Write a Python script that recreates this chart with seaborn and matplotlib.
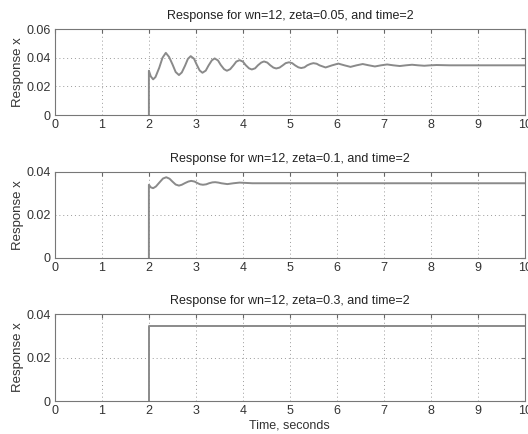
import matplotlib
matplotlib.use("Agg")
import matplotlib.pyplot as plt
import seaborn as sns
import pandas as pd

# valores (tiempo en s, respuesta x)
t_z005 = [2, 2, 2.04, 2.09, 2.14, 2.22, 2.29, 2.36, 2.43, 2.50, 2.57, 2.64, 2.70,
          2.77, 2.83, 2.89, 2.96, 3.02, 3.08, 3.14, 3.21, 3.27, 3.34, 3.40, 3.47,
          3.53, 3.60, 3.66, 3.73, 3.80, 3.86, 3.93, 4.00, 4.06, 4.13, 4.19, 4.26,
          4.32, 4.39, 4.45, 4.52, 4.58, 4.65, 4.71, 4.78, 4.85, 4.91, 4.98, 5.05,
          5.11, 5.18, 5.24, 5.31, 5.37, 5.44, 5.50, 5.57, 5.63, 5.76, 5.90, 6.03,
          6.16, 6.29, 6.42, 6.55, 6.68, 6.81, 6.94, 7.07, 7.20, 7.34, 7.47, 7.60,
          7.73, 7.86, 7.99, 8.12, 8.40, 10]
x_z005 = [0, 0.0309, 0.0270, 0.0249, 0.0265, 0.0330, 0.0400, 0.0434, 0.0405,
          0.0355, 0.0300, 0.0279, 0.0297, 0.0345, 0.0392, 0.0411, 0.0393, 0.0350,
          0.0311, 0.0295, 0.0310, 0.0346, 0.0382, 0.0395, 0.0381, 0.0349, 0.0320,
          0.0309, 0.0320, 0.0347, 0.0373, 0.0383, 0.0373, 0.0348, 0.0326, 0.0318,
          0.0326, 0.0347, 0.0366, 0.0374, 0.0366, 0.0348, 0.0331, 0.0325, 0.0331,
          0.0347, 0.0362, 0.0368, 0.0362, 0.0347, 0.0333, 0.0328, 0.0333, 0.0347,
          0.0357, 0.0362, 0.0358, 0.0347, 0.0332, 0.0347, 0.0359, 0.0347, 0.0336,
          0.0347, 0.0356, 0.0347, 0.0339, 0.0347, 0.0353, 0.0347, 0.0342, 0.0347,
          0.0351, 0.0347, 0.0344, 0.0347, 0.0349, 0.0347, 0.0347]

t_z01 = [2, 2, 2.04, 2.09, 2.15, 2.23, 2.30, 2.37, 2.44, 2.50, 2.57, 2.64, 2.70,
         2.77, 2.84, 2.90, 2.97, 3.03, 3.09, 3.15, 3.22, 3.28, 3.35, 3.41, 3.48,
         3.54, 3.67, 3.80, 3.93, 4.20, 10]
x_z01 = [0, 0.0340, 0.0328, 0.0324, 0.0332, 0.0352, 0.0369, 0.0375, 0.0368,
         0.0355, 0.0341, 0.0336, 0.0340, 0.0348, 0.0355, 0.0358, 0.0355, 0.0348,
         0.0342, 0.0340, 0.0342, 0.0347, 0.0351, 0.0352, 0.0350, 0.0347, 0.0343,
         0.0347, 0.0350, 0.0347, 0.0347]

t_z03 = [2, 2, 10]
x_z03 = [0, 0.0347, 0.0347]

zetas = ["0.05", "0.1", "0.3"]
series = [(t_z005, x_z005), (t_z01, x_z01), (t_z03, x_z03)]
y_max = [0.06, 0.04, 0.04]
y_ticks = [[0, 0.02, 0.04, 0.06], [0, 0.02, 0.04], [0, 0.02, 0.04]]
y_labels = [["0", "0.02", "0.04", "0.06"], ["0", "0.02", "0.04"], ["0", "0.02", "0.04"]]

sns.set_style("white")
plt.rcParams['font.family'] = ['Liberation Sans', 'DejaVu Sans']

fig = plt.figure(figsize=(5.28, 4.34), dpi=100)
posiciones = [(0.104, 0.735, 0.890, 0.198),
              (0.104, 0.406, 0.890, 0.198),
              (0.104, 0.076, 0.890, 0.200)]

for i, (t, x) in enumerate(series):
    ax = fig.add_axes(posiciones[i])
    df = pd.DataFrame({"t": t, "x": x})
    sns.lineplot(data=df, x="t", y="x", ax=ax, estimator=None, sort=False,
                 color="#8a8a8a", linewidth=1.4)
    ax.set_xlim(0, 10)
    ax.set_ylim(0, y_max[i])
    ax.set_xticks(range(0, 11))
    ax.set_xticklabels([str(v) for v in range(0, 11)], fontsize=9, color="#333333")
    ax.set_yticks(y_ticks[i])
    ax.set_yticklabels(y_labels[i], fontsize=9, color="#333333")
    ax.grid(True, linestyle=(0, (1, 3)), color="#9a9a9a", linewidth=0.7)
    ax.tick_params(direction="in", length=3, top=True, right=True,
                   color="#666666", pad=3)
    for s in ax.spines.values():
        s.set_color("#777777")
        s.set_linewidth(0.8)
    ax.set_title("Response for wn=12, zeta=%s, and time=2" % zetas[i],
                 fontsize=9, color="#222222", pad=7)
    ax.set_ylabel("Response x", fontsize=9.5, color="#333333", labelpad=2)
    if i == 2:
        ax.set_xlabel("Time, seconds", fontsize=9, color="#333333", labelpad=2)
    else:
        ax.set_xlabel("")

plt.savefig("out.png", dpi=100)
